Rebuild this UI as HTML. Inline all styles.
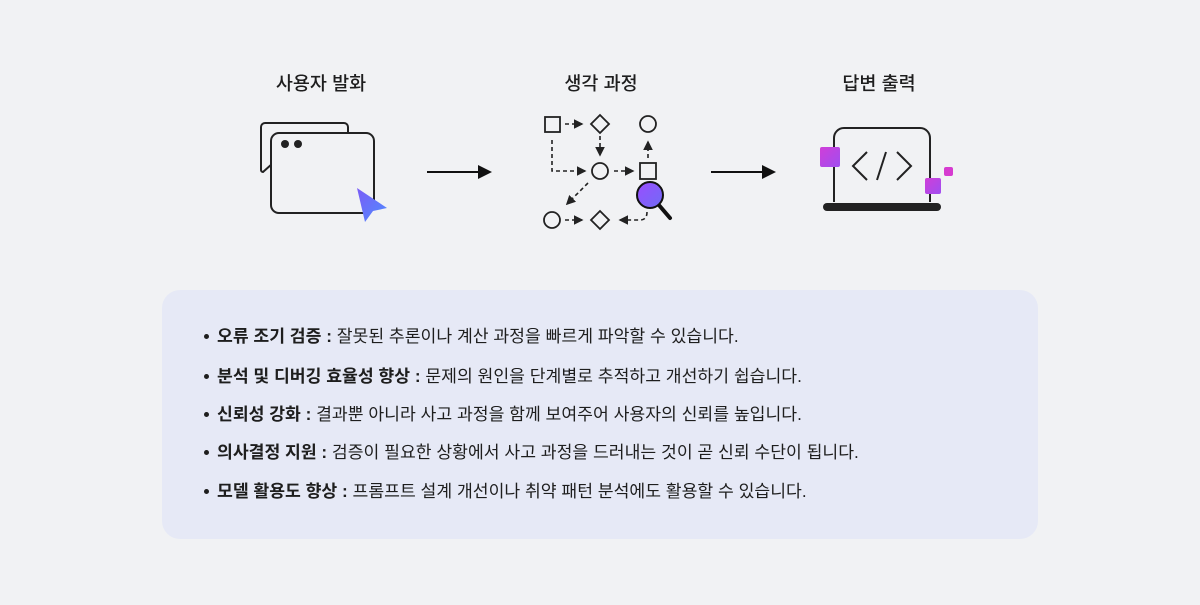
<!DOCTYPE html>
<html><head><meta charset="utf-8"><style>
body{margin:0;width:1200px;height:605px;background:#f1f2f4;font-family:"Liberation Sans","Noto Sans CJK KR",sans-serif;position:relative;overflow:hidden;color:#1e1e1e}
.t{position:absolute;font-size:18.5px;font-weight:500;transform:translateX(-50%);top:70px;white-space:nowrap}
.panel{position:absolute;left:162px;top:290px;width:876px;height:249px;background:#e6e9f6;border-radius:18px}
.li{position:absolute;left:217px;font-size:17.2px;white-space:nowrap;line-height:20px}
.li b{font-weight:700}
.li:before{content:"";position:absolute;left:-13px;top:8px;width:5px;height:5px;border-radius:50%;background:#1e1e1e}
</style></head><body>
<div class="t" style="left:321px">사용자 발화</div>
<div class="t" style="left:601px">생각 과정</div>
<div class="t" style="left:879px">답변 출력</div>
<svg width="1200" height="605" style="position:absolute;left:0;top:0">
<defs>
<linearGradient id="g1" x1="0" y1="0" x2="1" y2="1"><stop offset="0" stop-color="#7b5cf6"/><stop offset="1" stop-color="#4f8cff"/></linearGradient>
<linearGradient id="g2" x1="0" y1="0" x2="1" y2="1"><stop offset="0" stop-color="#9b4dff"/><stop offset="1" stop-color="#6f6cf6"/></linearGradient>
<linearGradient id="g3" x1="0" y1="0" x2="1" y2="1"><stop offset="0" stop-color="#d03ed8"/><stop offset="1" stop-color="#9f4ef0"/></linearGradient>
<marker id="ah" markerWidth="6" markerHeight="6" refX="5" refY="3" orient="auto"><path d="M0,0 L6,3 L0,6z" fill="#222"/></marker>
</defs>
<g fill="none" stroke="#222" stroke-width="2">
<path d="M265,123 H344 a4,4 0 0 1 4,4 V151 a4,4 0 0 1 -4,4 H282 L263,172 a2,2 0 0 1 -2,-2 V127 a4,4 0 0 1 4,-4z" fill="#f1f2f4"/>
<rect x="271" y="133" width="103" height="80" rx="8" fill="#f1f2f4"/>
</g>
<circle cx="285" cy="144" r="4" fill="#222"/><circle cx="298" cy="144" r="4" fill="#222"/>
<path d="M357,188 L387,208 L373,211 L365,222z" fill="url(#g1)"/>
<line x1="427" y1="172" x2="480" y2="172" stroke="#111" stroke-width="2"/><path d="M478,165 L492,172 L478,179z" fill="#111"/>
<line x1="711" y1="172" x2="764" y2="172" stroke="#111" stroke-width="2"/><path d="M762,165 L776,172 L762,179z" fill="#111"/>
<g fill="none" stroke="#222" stroke-width="1.8">
<rect x="545" y="117" width="15" height="15"/>
<path d="M600,115 L609,124 L600,133 L591,124z"/>
<circle cx="648" cy="124" r="8"/>
<circle cx="600" cy="171" r="8"/>
<rect x="640" y="163" width="16" height="16"/>
<circle cx="552" cy="220" r="8"/>
<path d="M600,211 L609,220 L600,229 L591,220z"/>
</g>
<g fill="none" stroke="#222" stroke-width="1.6" stroke-dasharray="4,3" marker-end="url(#ah)">
<path d="M565,124 H582"/>
<path d="M600,136 V155"/>
<path d="M552,140 V171 H585"/>
<path d="M614,171 H633"/>
<path d="M648,158 V142"/>
<path d="M588,183 L567,204"/>
<path d="M565,220 H582"/>
<path d="M647,212 Q647,220 640,220 H620"/>
</g>
<line x1="658" y1="204" x2="670" y2="218" stroke="#111" stroke-width="4" stroke-linecap="round"/>
<circle cx="650" cy="195" r="13" fill="url(#g2)" stroke="#111" stroke-width="2"/>
<path d="M834,202 V138 a10,10 0 0 1 10,-10 H920 a10,10 0 0 1 10,10 V202" fill="none" stroke="#222" stroke-width="2"/>
<rect x="823" y="203" width="118" height="8" rx="4" fill="#222"/>
<g fill="none" stroke="#222" stroke-width="2"><path d="M867,152 L853,166 L867,180"/><path d="M886,152 L877,180"/><path d="M897,152 L911,166 L897,180"/></g>
<rect x="820" y="147" width="20" height="20" rx="2" fill="url(#g3)"/>
<rect x="925" y="178" width="16" height="16" rx="2" fill="url(#g3)"/>
<rect x="944" y="167" width="9" height="9" rx="2" fill="#d63bd0"/>
</svg>
<div class="panel"></div>
<div class="li" style="top:326px"><b>오류 조기 검증 :</b> 잘못된 추론이나 계산 과정을 빠르게 파악할 수 있습니다.</div>
<div class="li" style="top:366px"><b>분석 및 디버깅 효율성 향상 :</b> 문제의 원인을 단계별로 추적하고 개선하기 쉽습니다.</div>
<div class="li" style="top:404px"><b>신뢰성 강화 :</b> 결과뿐 아니라 사고 과정을 함께 보여주어 사용자의 신뢰를 높입니다.</div>
<div class="li" style="top:442px"><b>의사결정 지원 :</b> 검증이 필요한 상황에서 사고 과정을 드러내는 것이 곧 신뢰 수단이 됩니다.</div>
<div class="li" style="top:481px"><b>모델 활용도 향상 :</b> 프롬프트 설계 개선이나 취약 패턴 분석에도 활용할 수 있습니다.</div>
</body></html>
